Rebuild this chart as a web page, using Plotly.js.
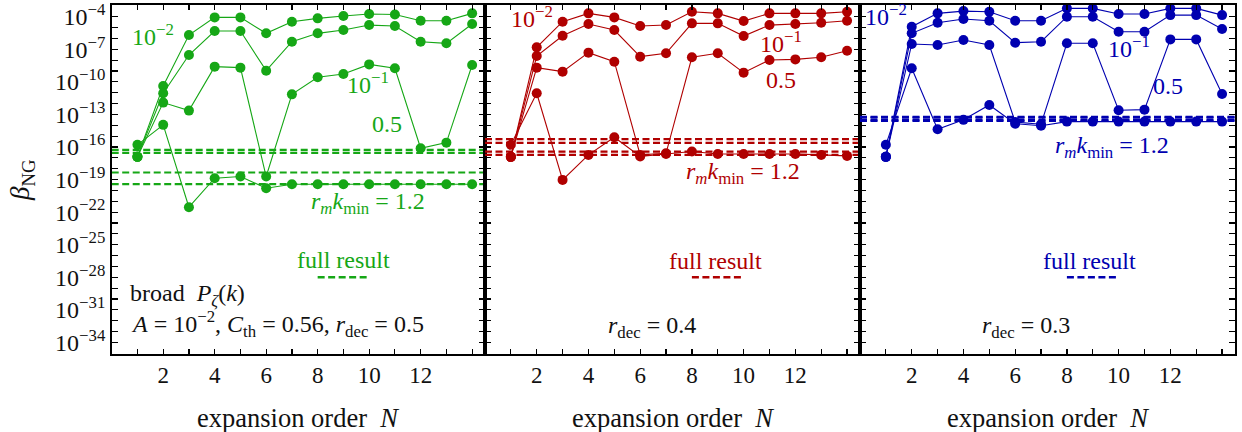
<!DOCTYPE html>
<html><head><meta charset="utf-8">
<script src="https://cdn.plot.ly/plotly-3.0.1.min.js"></script>
<style>html,body{margin:0;padding:0;background:#fff}</style>
</head><body><div id="chart" style="width:1242px;height:432px"></div>
<script>
// expansion order
const orderN = [1,2,3,4,5,6,7,8,9,10,11,12,13,14];

// log10(beta_NG); series r_m k_min = 1e-2, 1e-1, 0.5, 1.2
// panel 1: r_dec = 0.5 (green)
const p1_1e2 = [-16.91,-10.38,-5.69,-4.06,-4.06,-5.53,-4.46,-4.15,-3.94,-3.75,-3.79,-4.37,-4.37,-3.69];
const p1_1e1 = [-16.91,-11.05,-7.53,-5.32,-5.32,-8.97,-6.30,-5.53,-5.23,-4.77,-4.86,-6.30,-6.45,-4.67];
const p1_05  = [-16.91,-11.91,-12.65,-8.60,-8.69,-18.72,-11.15,-9.58,-9.28,-8.39,-8.75,-16.12,-15.60,-8.45];
const p1_12  = [-15.80,-13.96,-21.55,-18.88,-18.72,-19.80,-19.43,-19.43,-19.43,-19.43,-19.43,-19.43,-19.43,-19.43];
const p1_full = [-16.26,-16.55,-18.35,-19.42];

// panel 2: r_dec = 0.4 (red)
const p2_1e2 = [-16.91,-6.82,-4.46,-3.69,-4.06,-4.86,-4.77,-3.54,-3.69,-4.40,-3.69,-3.69,-3.69,-3.54];
const p2_1e1 = [-16.91,-7.62,-5.75,-4.67,-5.23,-7.68,-7.37,-4.61,-4.61,-5.78,-4.77,-4.67,-4.55,-4.37];
const p2_05  = [-16.91,-8.69,-9.06,-7.31,-8.14,-16.73,-16.58,-7.74,-7.37,-9.15,-7.99,-7.93,-7.74,-7.13];
const p2_12  = [-15.80,-11.05,-19.03,-16.73,-15.10,-16.88,-16.64,-16.42,-16.64,-16.64,-16.64,-16.64,-16.73,-16.82];
const p2_full = [-15.28,-15.62,-16.42,-16.72];

// panel 3: r_dec = 0.3 (blue)
const p3_1e2 = [-16.91,-4.92,-3.69,-3.48,-3.54,-4.37,-4.37,-3.23,-3.23,-3.75,-3.75,-3.23,-3.23,-3.85];
const p3_1e1 = [-16.91,-5.53,-4.55,-4.21,-4.37,-6.39,-6.30,-4.00,-4.00,-5.38,-5.38,-3.85,-3.85,-5.13];
const p3_05  = [-16.91,-6.51,-6.61,-6.15,-6.61,-13.70,-13.90,-6.45,-6.45,-12.62,-12.56,-6.09,-6.09,-11.12];
const p3_12  = [-15.80,-8.75,-14.36,-13.50,-12.13,-13.85,-14.05,-13.66,-13.66,-13.66,-13.66,-13.66,-13.66,-13.66];
const p3_full = [-13.23,-13.30,-13.53,-13.60];

// tick labels
const xTickVals = [1,2,3,4,5,6,7,8,9,10,11,12,13,14];
const xTickText = ['','2','','4','','6','','8','','10','','12','',''];
const yTickExps = [-34,-33,-32,-31,-30,-29,-28,-27,-26,-25,-24,-23,-22,-21,-20,-19,-18,-17,-16,-15,-14,-13,-12,-11,-10,-9,-8,-7,-6,-5,-4,-3];
const yLabelExps = [-34,-31,-28,-25,-22,-19,-16,-13,-10,-7,-4];
const legendExp = -28;
const legendN = [8,10];
const xRange = [0,14.5];

const FONT = 'Liberation Serif, Times New Roman, serif';
const colors = ['#16a716','#b00000','#0000b0'];
const panels = [
  {series:[p1_1e2,p1_1e1,p1_05,p1_12], full:p1_full},
  {series:[p2_1e2,p2_1e1,p2_05,p2_12], full:p2_full},
  {series:[p3_1e2,p3_1e1,p3_05,p3_12], full:p3_full}
];
const toVal = e => Math.pow(10, e);

const traces = [];
panels.forEach((p, i) => {
  const xa = i === 0 ? 'x' : 'x' + (i+1);
  const ya = i === 0 ? 'y' : 'y' + (i+1);
  p.full.forEach(e => {
    traces.push({x: xRange, y: [toVal(e), toVal(e)], xaxis: xa, yaxis: ya, mode: 'lines',
      line: {color: colors[i], width: 2.2, dash: '7px,3.5px'}, hoverinfo: 'skip', showlegend: false});
  });
  p.series.forEach(s => {
    traces.push({x: orderN, y: s.map(toVal), xaxis: xa, yaxis: ya, mode: 'lines+markers',
      line: {color: colors[i], width: 1.1}, marker: {color: colors[i], size: 10}, showlegend: false});
  });
  traces.push({x: legendN, y: [toVal(legendExp), toVal(legendExp)], xaxis: xa, yaxis: ya, mode: 'lines',
    line: {color: colors[i], width: 2.4, dash: '7px,3.5px'}, hoverinfo: 'skip', showlegend: false});
});

const W = 1242, H = 432;
const xEdges = [111.7, 485, 860, 1235];
const yDom = [1 - 354/H, 1 - 5/H];

function xAxis(i) {
  return {domain: [xEdges[i]/W, xEdges[i+1]/W], range: xRange, anchor: i === 0 ? 'y' : 'y' + (i+1),
    tickmode: 'array', tickvals: xTickVals, ticktext: xTickText, ticks: 'inside', ticklen: 5, tickwidth: 1.2,
    tickcolor: '#000', mirror: 'ticks', showline: true, linecolor: '#000', linewidth: 1.6,
    showgrid: false, zeroline: false, tickfont: {family: FONT, size: 23, color: '#111'}};
}
function yAxis(i) {
  return {domain: yDom, type: 'log', range: [-35.07, -2.92], anchor: i === 0 ? 'x' : 'x' + (i+1),
    tickmode: 'array', tickvals: yTickExps.map(toVal),
    ticktext: yTickExps.map(e => yLabelExps.includes(e) ? '10<sup>\u2212' + (-e) + '</sup>' : ''),
    showticklabels: i === 0, ticks: 'inside', ticklen: 6, tickwidth: 1.2, tickcolor: '#000',
    mirror: 'ticks', showline: true, linecolor: '#000', linewidth: 1.6, showgrid: false, zeroline: false,
    tickfont: {family: FONT, size: 24, color: '#111'}, matches: i === 0 ? undefined : 'y'};
}

function ann(i, x, yExp, text, color, size) {
  const xa = i === 0 ? 'x' : 'x' + (i+1);
  const ya = i === 0 ? 'y' : 'y' + (i+1);
  return {xref: xa, yref: ya, x: x, y: yExp, text: text, showarrow: false,
    font: {family: FONT, size: size || 24, color: color}, xanchor: 'center', yanchor: 'middle'};
}
const rk = '<i>r</i><sub><i>m</i></sub><i>k</i><sub>min</sub> = 1.2';
const annotations = [
  ann(0, 1.6, -5.7, '10<sup>\u22122</sup>', colors[0]),
  ann(0, 9.94, -10.1, '10<sup>\u22121</sup>', colors[0]),
  ann(0, 10.7, -13.9, '0.5', colors[0]),
  ann(0, 9.94, -21.15, rk, colors[0]),
  ann(0, 9.0, -26.4, 'full result', colors[0]),
  ann(0, 2.96, -29.6, 'broad&nbsp;&nbsp;<i>P</i><sub><i>\u03b6</i></sub>(<i>k</i>)', '#111'),
  ann(0, 6.45, -32.3, '<i>A</i> = 10<sup>\u22122</sup>, <i>C</i><sub>th</sub> = 0.56, <i>r</i><sub>dec</sub> = 0.5', '#111'),
  ann(1, 1.8, -4.0, '10<sup>\u22122</sup>', colors[1]),
  ann(1, 11.43, -6.33, '10<sup>\u22121</sup>', colors[1]),
  ann(1, 11.43, -9.82, '0.5', colors[1]),
  ann(1, 9.96, -18.4, rk, colors[1]),
  ann(1, 8.91, -26.5, 'full result', colors[1]),
  ann(1, 6.47, -32.55, '<i>r</i><sub>dec</sub> = 0.4', '#111'),
  ann(2, 1.0, -3.85, '10<sup>\u22122</sup>', colors[2]),
  ann(2, 10.4, -6.8, '10<sup>\u22121</sup>', colors[2]),
  ann(2, 11.9, -10.4, '0.5', colors[2]),
  ann(2, 9.73, -16.0, rk, colors[2]),
  ann(2, 8.88, -26.5, 'full result', colors[2]),
  ann(2, 6.43, -32.55, '<i>r</i><sub>dec</sub> = 0.3', '#111')
];
[0,1,2].forEach(i => {
  annotations.push({xref: (i === 0 ? 'x' : 'x' + (i+1)) + ' domain', yref: 'paper', x: 0.5, y: 1 - 418/H,
    text: 'expansion order&nbsp;&nbsp;<i>N</i>', showarrow: false, xanchor: 'center', yanchor: 'middle',
    font: {family: FONT, size: 26.5, color: '#111'}});
});
annotations.push({xref: 'paper', yref: 'paper', x: 22/W, y: 1 - 180/H, text: '<i>\u03b2</i><sub>NG</sub>',
  textangle: -90, showarrow: false, xanchor: 'center', yanchor: 'middle', font: {family: FONT, size: 27, color: '#111'}});

const layout = {
  width: W, height: H, margin: {l: 0, r: 0, t: 0, b: 0}, paper_bgcolor: '#fff', plot_bgcolor: '#fff',
  showlegend: false, annotations: annotations,
  xaxis: xAxis(0), xaxis2: xAxis(1), xaxis3: xAxis(2),
  yaxis: yAxis(0), yaxis2: yAxis(1), yaxis3: yAxis(2)
};
Plotly.newPlot('chart', traces, layout, {staticPlot: true, displayModeBar: false});
</script></body></html>
